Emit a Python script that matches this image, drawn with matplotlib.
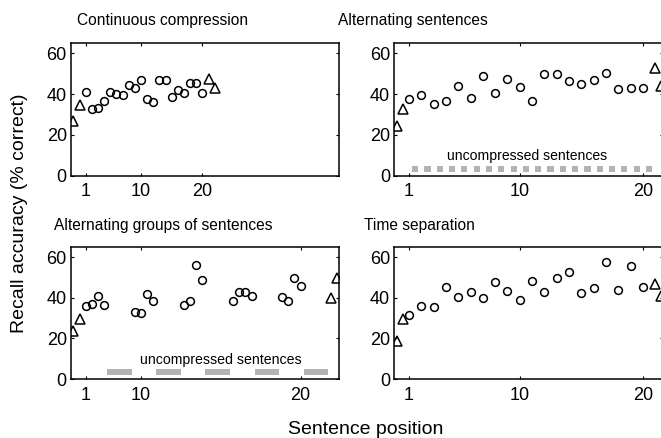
import matplotlib
matplotlib.use("Agg")
import matplotlib.pyplot as plt

plt.rcParams['font.family'] = ['Liberation Sans', 'DejaVu Sans']

# ---------------- data ----------------
titles = ["Continuous compression", "Alternating sentences",
          "Alternating groups of sentences", "Time separation"]
tick_labels = ["1", "10", "20"]

# Continuous compression
cont_pos = [1, 2, 3, 4, 5, 6, 7, 8, 9, 10, 11, 12, 13, 14, 15, 16, 17, 18, 19, 20]
cont_val = [41, 32.8, 33.3, 36.4, 40.8, 39.8, 39.5, 44.2, 43.1, 47,
            37.7, 35.9, 47, 47, 38.5, 41.8, 40.5, 45.5, 45.5, 40.7]
cont_tri_pos = [-1, 0, 21, 22]
cont_tri_val = [26.8, 34.5, 47.5, 43.1]
cont_ticks = [1, 10, 20]

# Alternating sentences
alt_pos = [1, 3, 5, 7, 9, 11, 13, 15, 17, 19, 21, 23, 25, 27, 29, 31, 33, 35, 37, 39]
alt_val = [37.4, 39.7, 35.3, 36.6, 43.9, 38, 48.8, 40.5, 47.2, 43.4,
           36.6, 49.9, 49.9, 46.3, 44.7, 46.7, 50.4, 42.3, 42.9, 42.9]
alt_tri_pos = [-1, 0, 41, 42]
alt_tri_val = [24.2, 32.5, 52.7, 43.9]
alt_unc = [2, 4, 6, 8, 10, 12, 14, 16, 18, 20, 22, 24, 26, 28, 30, 32, 34, 36, 38, 40]
alt_unc_width = 1
alt_ticks = [1, 19, 39]

# Alternating groups of sentences
grp_pos = [1, 2, 3, 4, 9, 10, 11, 12, 17, 18, 19, 20, 25, 26, 27, 28, 33, 34, 35, 36]
grp_val = [36.1, 37.1, 41.1, 36.6, 33.1, 32.6, 41.9, 38.5, 36.3, 38.2,
           56, 48.7, 38.5, 42.7, 42.7, 41.1, 40.6, 38.2, 49.8, 45.8]
grp_tri_pos = [-1, 0, 41, 42]
grp_tri_val = [23.4, 29.4, 39.8, 49.5]
grp_unc = [6.5, 14.5, 22.5, 30.5, 38.5]
grp_unc_width = 4
grp_ticks = [1, 10, 36]

# Time separation
time_pos = [1, 3, 5, 7, 9, 11, 13, 15, 17, 19, 21, 23, 25, 27, 29, 31, 33, 35, 37, 39]
time_val = [31.5, 36.1, 35.5, 45.5, 40.6, 42.6, 39.8, 47.6, 43.5, 38.7,
            48.4, 42.7, 49.5, 52.7, 42.3, 45, 57.6, 43.9, 55.5, 45.2]
time_tri_pos = [-1, 0, 41, 42]
time_tri_val = [18.9, 29.4, 46.8, 41.1]
time_ticks = [1, 19, 39]

unc_label = "uncompressed sentences"
ylabel = "Recall accuracy (% correct)"
xlabel = "Sentence position"

# ---------------- figure ----------------
W, H = 661, 438
fig = plt.figure(figsize=(W / 100, H / 100), dpi=100)


def px_axes(x0, ytop, w, h):
    return fig.add_axes([x0 / W, (H - ytop - h) / H, w / W, h / H])


axs = [px_axes(71, 43, 268, 132.7), px_axes(394.3, 43, 268.5, 132.7),
       px_axes(71, 247, 268, 132), px_axes(394.3, 247, 268.5, 132)]

panels = [
    (cont_pos, cont_val, cont_tri_pos, cont_tri_val, cont_ticks, None, None),
    (alt_pos, alt_val, alt_tri_pos, alt_tri_val, alt_ticks, alt_unc, alt_unc_width),
    (grp_pos, grp_val, grp_tri_pos, grp_tri_val, grp_ticks, grp_unc, grp_unc_width),
    (time_pos, time_val, time_tri_pos, time_tri_val, time_ticks, None, None),
]

for ax, (pos, val, tpos, tval, ticks, unc, uw) in zip(axs, panels):
    if unc is not None:
        ax.bar(unc, [3] * len(unc), bottom=1.8, width=uw, color='#b3b3b3',
               linewidth=0, zorder=1)
    ax.plot(pos, val, linestyle='none', marker='o', markersize=5.6,
            markerfacecolor='none', markeredgecolor='black', markeredgewidth=1.1,
            zorder=3)
    ax.plot(tpos, tval, linestyle='none', marker='^', markersize=6.5,
            markerfacecolor='none', markeredgecolor='black', markeredgewidth=1.1,
            zorder=3)
    ax.set_xlim(-1.4, 42.25)
    ax.set_ylim(0, 65)
    ax.set_xticks(ticks)
    ax.set_xticklabels(tick_labels)
    ax.set_yticks([0, 20, 40, 60])
    ax.tick_params(direction='in', length=2.5, width=0.8, top=True, right=True,
                   labelsize=13)
    ax.tick_params(axis='x', pad=5.5)
    ax.tick_params(axis='y', pad=3)
    for s in ax.spines.values():
        s.set_linewidth(1.1)

axs[1].text(20.2, 9.6, unc_label, ha='center', va='center', fontsize=10.1)
axs[2].text(23.0, 9.5, unc_label, ha='center', va='center', fontsize=10.2)

title_xy = [(162.5, 20), (413.3, 20), (163.5, 225), (419.5, 225)]
for t, (x, y) in zip(titles, title_xy):
    fig.text(x / W, 1 - y / H, t, ha='center', va='center', fontsize=11.2)

fig.text(20 / W, 1 - 213 / H, ylabel, rotation=90, ha='center', va='center',
         fontsize=14)
fig.text(365.8 / W, 1 - 429.3 / H, xlabel, ha='center', va='center', fontsize=14)

fig.savefig("out.png", dpi=100)
